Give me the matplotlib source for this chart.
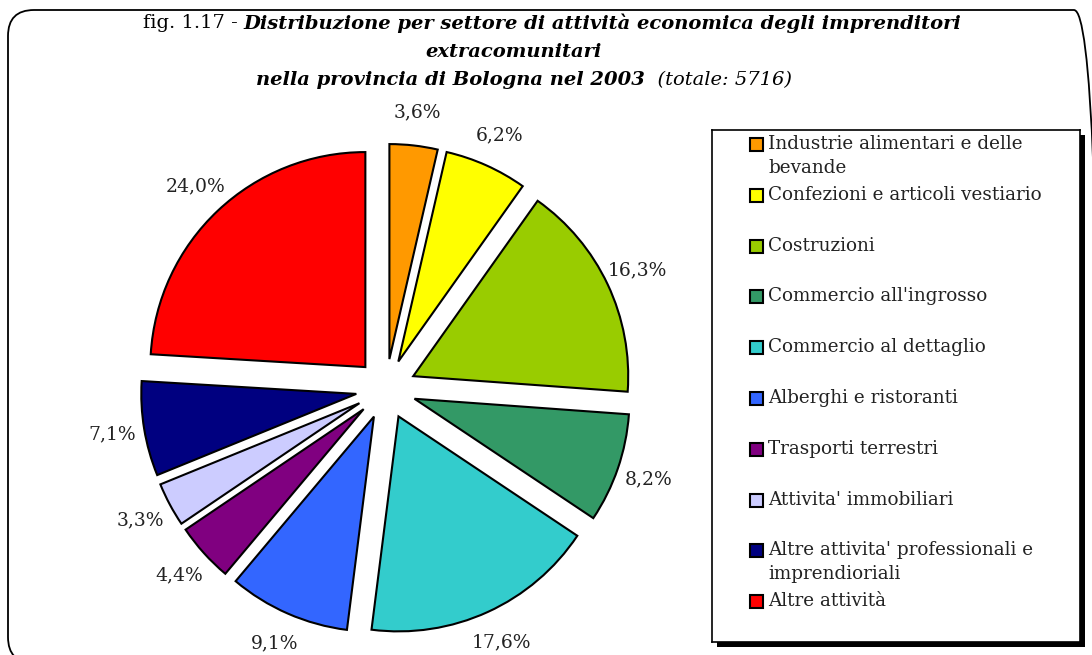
import matplotlib.pyplot as plt
from matplotlib.patches import FancyBboxPatch, Rectangle

plt.rcParams['font.family'] = ['DejaVu Serif']

# dati
settori = ['Industrie alimentari e delle\nbevande', 'Confezioni e articoli vestiario',
           'Costruzioni', "Commercio all'ingrosso", 'Commercio al dettaglio',
           'Alberghi e ristoranti', 'Trasporti terrestri', "Attivita' immobiliari",
           "Altre attivita' professionali e\nimprendioriali", 'Altre attività']
percentuali = [3.6, 6.2, 16.3, 8.2, 17.6, 9.1, 4.4, 3.3, 7.1, 24.0]
colori = ['#FF9900', '#FFFF00', '#99CC00', '#339966', '#33CCCC',
          '#3366FF', '#800080', '#CCCCFF', '#000080', '#FF0000']
etichette = [f'{v:.1f}%'.replace('.', ',') for v in percentuali]

W, H = 1092, 655
fig = plt.figure(figsize=(W / 100, H / 100), dpi=100)

# cornice arrotondata (in pollici per avere angoli circolari)
fig.patches.append(FancyBboxPatch((0.08, -0.08), 10.92, 6.53,
                                  boxstyle='round,pad=0,rounding_size=0.26',
                                  transform=fig.dpi_scale_trans, fill=False, ec='black', lw=1.3,
                                  zorder=-5))

# torta
cx, cy, r = 386, 389, 215
x0, x1, y0, y1 = 86, 686, 110, 650
ax = fig.add_axes([x0 / W, 1 - y1 / H, (x1 - x0) / W, (y1 - y0) / H])
spicchi, testi = ax.pie(percentuali, colors=colori, labels=etichette, startangle=90,
                        counterclock=False, explode=[0.14] * len(percentuali),
                        labeldistance=1.153,
                        wedgeprops=dict(edgecolor='black', linewidth=1.5),
                        textprops=dict(fontsize=13.5, color='#222222'))
for t in testi:
    t.set_ha('center')
    t.set_va('center')
ax.set_xlim((x0 - cx) / r, (x1 - cx) / r)
ax.set_ylim((cy - y1) / r, (cy - y0) / r)

# titolo
righe = [
    [('fig. 1.17 - ', 'normal', 'normal'),
     ('Distribuzione per settore di attività economica degli imprenditori', 'bold', 'italic')],
    [('extracomunitari', 'bold', 'italic')],
    [('nella provincia di Bologna nel 2003', 'bold', 'italic'), ('  (totale: 5716)', 'normal', 'italic')],
]
centri = [(552, 23), (513, 52), (524, 80)]
renderer = fig.canvas.get_renderer()
for riga, (xc, yc) in zip(righe, centri):
    pezzi = []
    for testo, peso, stile in riga:
        t = fig.text(0, 1 - yc / H, testo, fontsize=14, fontweight=peso, fontstyle=stile,
                     va='center', ha='left')
        pezzi.append(t)
    larghezze = [t.get_window_extent(renderer).width for t in pezzi]
    x = xc - sum(larghezze) / 2
    for t, w in zip(pezzi, larghezze):
        t.set_x(x / W)
        x += w

# legenda
lx0, lx1, ly0, ly1 = 712, 1080, 130, 642
ombra = Rectangle(((lx0 + 5) / W, 1 - (ly1 + 5) / H), (lx1 - lx0) / W, (ly1 - ly0) / H,
                  transform=fig.transFigure, fc='black', ec='none', zorder=-3)
fig.patches.append(ombra)
lax = fig.add_axes([lx0 / W, 1 - ly1 / H, (lx1 - lx0) / W, (ly1 - ly0) / H])
lax.set_xlim(lx0, lx1)
lax.set_ylim(ly1, ly0)
lax.set_xticks([])
lax.set_yticks([])
for s in lax.spines.values():
    s.set_linewidth(1.2)
for i, (nome, col) in enumerate(zip(settori, colori)):
    y = 145 + i * 50.8
    lax.add_patch(Rectangle((750, y - 7), 13, 13, fc=col, ec='black', lw=1.5))
    lax.text(768, y - 10, nome, fontsize=13.2, va='top', ha='left', color='#222222',
             linespacing=1.4)

fig.savefig('out.png', dpi=100)
